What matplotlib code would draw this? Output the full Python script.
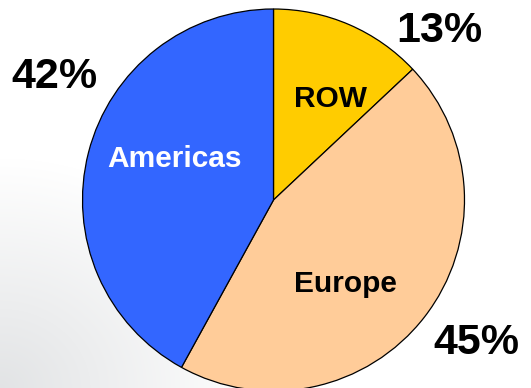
import numpy as np
import matplotlib
matplotlib.use("Agg")
import matplotlib.pyplot as plt

# =========================
# Datos
# =========================
regions = ["ROW", "Europe", "Americas"]
shares = [13, 45, 42]
pct_labels = ["13%", "45%", "42%"]
colors = ["#FFCC00", "#FFCC99", "#3366FF"]
name_colors = ["black", "black", "white"]

# Posiciones de textos (pixeles, origen arriba-izquierda, linea base)
name_pos = [(330, 107), (345, 292), (175, 167)]
pct_pos = [(439, 42), (476, 354), (54, 88)]

W, H = 531, 388

plt.rcParams["font.family"] = ["Liberation Sans", "DejaVu Sans"]

fig = plt.figure(figsize=(W / 100, H / 100), dpi=100)
ax = fig.add_axes([0, 0, 1, 1])

# fondo claro con sombra suave abajo a la izquierda
yy, xx = np.mgrid[0:H, 0:W]
shade = np.clip(1 - np.hypot(xx / 260, (H - yy) / 230), 0, 1) * 0.12
bg = np.dstack([1 - shade * 0.95, 1 - shade * 0.9, 1 - shade * 0.85])
ax.imshow(bg, extent=(0, W, 0, H), origin="upper", zorder=0)

ax.pie(
    shares,
    colors=colors,
    startangle=90,
    counterclock=False,
    center=(273.5, H - 200),
    radius=191,
    wedgeprops={"edgecolor": "black", "linewidth": 0.9},
)

for name, (px, py), c in zip(regions, name_pos, name_colors):
    ax.text(px, H - py, name, ha="center", va="baseline", fontsize=21.5,
            fontweight="bold", color=c, zorder=5)

for lab, (px, py) in zip(pct_labels, pct_pos):
    ax.text(px, H - py, lab, ha="center", va="baseline", fontsize=31,
            fontweight="bold", color="black", zorder=5)

ax.set_xlim(0, W)
ax.set_ylim(0, H)
ax.set_aspect("auto")
ax.axis("off")

fig.savefig("out.png", dpi=100)
